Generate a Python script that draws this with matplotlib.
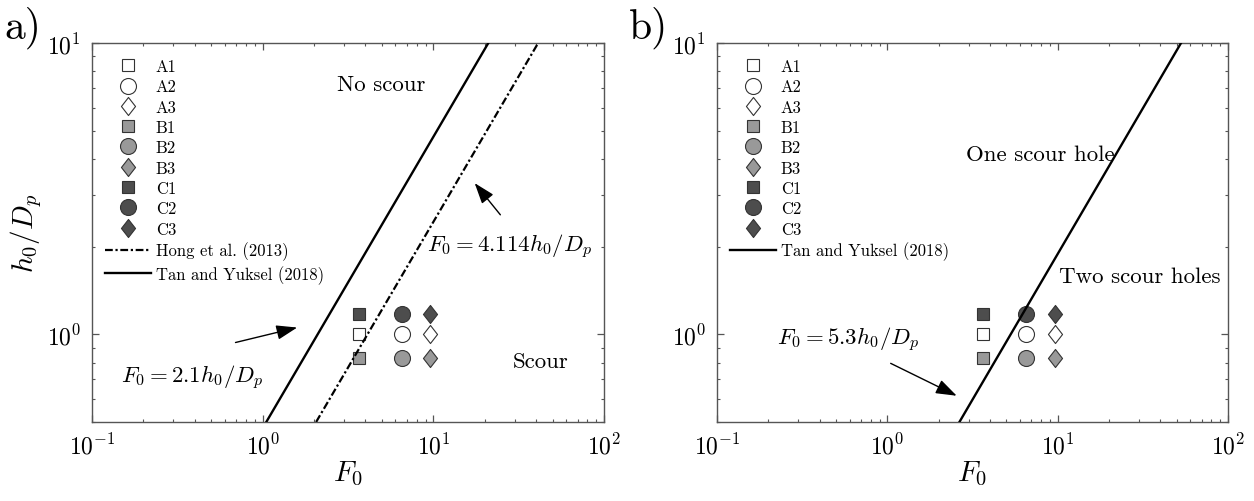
import matplotlib
matplotlib.use("Agg")
import matplotlib.pyplot as plt
import numpy as np
from matplotlib.path import Path

plt.rcParams['font.family'] = ['cmr10', 'DejaVu Serif']
plt.rcParams['mathtext.fontset'] = 'cm'
plt.rcParams['axes.formatter.use_mathtext'] = True
plt.rcParams['axes.unicode_minus'] = False

# ---- data ----
series_names = ['A1', 'A2', 'A3', 'B1', 'B2', 'B3', 'C1', 'C2', 'C3']
series_F0 = [3.65, 6.55, 9.6, 3.65, 6.55, 9.6, 3.65, 6.55, 9.6]
series_h = [1.0, 1.0, 1.0, 0.83, 0.83, 0.83, 1.17, 1.17, 1.17]
group_colors = {'A': '#ffffff', 'B': '#999999', 'C': '#4d4d4d'}
shape_by_index = {'1': 's', '2': 'o', '3': 'D'}

hong_coef = 4.114
tan_coef_a = 2.1
tan_coef_b = 5.3
h_range = [0.5, 10.0]

xlim = (0.1, 100)
ylim = (0.5, 10)

diamond = Path([(0, 1), (0.78, 0), (0, -1), (-0.78, 0), (0, 1)],
               [Path.MOVETO, Path.LINETO, Path.LINETO, Path.LINETO, Path.CLOSEPOLY])
marker_map = {'s': ('s', 8.0), 'o': ('o', 11.5), 'D': (diamond, 13.0)}

fig = plt.figure(figsize=(12.54, 5.02), dpi=100)
axA = fig.add_axes([92/1254, 79/502, 512/1254, 379/502])
axB = fig.add_axes([717/1254, 79/502, 511/1254, 379/502])

spine_c = '#555555'


def draw_points(ax):
    for name, F, h in zip(series_names, series_F0, series_h):
        m, ms = marker_map[shape_by_index[name[1]]]
        ax.plot([F], [h], linestyle='none', marker=m, markersize=ms,
                markerfacecolor=group_colors[name[0]], markeredgecolor='#333333',
                markeredgewidth=0.8, label=name, zorder=2)


def style(ax):
    ax.set_xscale('log')
    ax.set_yscale('log')
    ax.set_xlim(*xlim)
    ax.set_ylim(*ylim)
    for s in ax.spines.values():
        s.set_color(spine_c)
        s.set_linewidth(1.0)
    ax.tick_params(which='both', direction='in', top=True, right=True,
                   color=spine_c, labelsize=17)
    ax.tick_params(which='major', length=5, width=0.9, pad=8)
    ax.tick_params(which='minor', length=2.5, width=0.8)
    ax.set_xlabel(r'$F_0$', fontsize=21, labelpad=0)


def legend(ax):
    ax.legend(loc='upper left', frameon=False, fontsize=12, handlelength=2.8,
              handletextpad=0.25, labelspacing=0.3, borderaxespad=0.0,
              bbox_to_anchor=(0.012, 0.976))


arrow_kw = dict(arrowstyle='-|>,head_length=0.8,head_width=0.28', color='black', lw=1.0,
                mutation_scale=16)

hh = np.array(h_range)

# ---- panel a ----
draw_points(axA)
axA.plot(hong_coef * hh, hh, color='black', lw=1.6, dashes=(3.5, 1.2, 1, 1.2),
         label='Hong et al. (2013)', zorder=3)
axA.plot(tan_coef_a * hh, hh, color='black', lw=1.7, label='Tan and Yuksel (2018)', zorder=3)
style(axA)
axA.set_ylabel(r'$h_0/D_p$', fontsize=21, labelpad=2)
axA.text(0.564, 0.892, 'No scour', transform=axA.transAxes, ha='center', va='center', fontsize=16.5)
axA.text(0.877, 0.161, 'Scour', transform=axA.transAxes, ha='center', va='center', fontsize=16.5)
axA.text(0.195, 0.119, r'$F_0 = 2.1h_0/D_p$', transform=axA.transAxes, ha='center', va='center', fontsize=16.5)
axA.annotate('', xy=(0.406, 0.251), xytext=(0.275, 0.208), xycoords='axes fraction', arrowprops=arrow_kw)
axA.text(0.815, 0.464, r'$F_0 = 4.114h_0/D_p$', transform=axA.transAxes, ha='center', va='center', fontsize=16.5)
axA.annotate('', xy=(0.744, 0.636), xytext=(0.801, 0.541), xycoords='axes fraction', arrowprops=arrow_kw)
legend(axA)

# ---- panel b ----
draw_points(axB)
axB.plot(tan_coef_b * hh, hh, color='black', lw=1.7, label='Tan and Yuksel (2018)', zorder=3)
style(axB)
axB.text(0.632, 0.707, 'One scour hole', transform=axB.transAxes, ha='center', va='center', fontsize=16.5)
axB.text(0.828, 0.385, 'Two scour holes', transform=axB.transAxes, ha='center', va='center', fontsize=16.5)
axB.text(0.256, 0.219, r'$F_0 = 5.3h_0/D_p$', transform=axB.transAxes, ha='center', va='center', fontsize=16.5)
axB.annotate('', xy=(0.474, 0.066), xytext=(0.335, 0.158), xycoords='axes fraction', arrowprops=arrow_kw)
legend(axB)

fig.text(4/1254, 1 - 28/502, 'a)', fontsize=30, ha='left', va='center')
fig.text(629/1254, 1 - 28/502, 'b)', fontsize=30, ha='left', va='center')

fig.savefig('out.png', dpi=100)
